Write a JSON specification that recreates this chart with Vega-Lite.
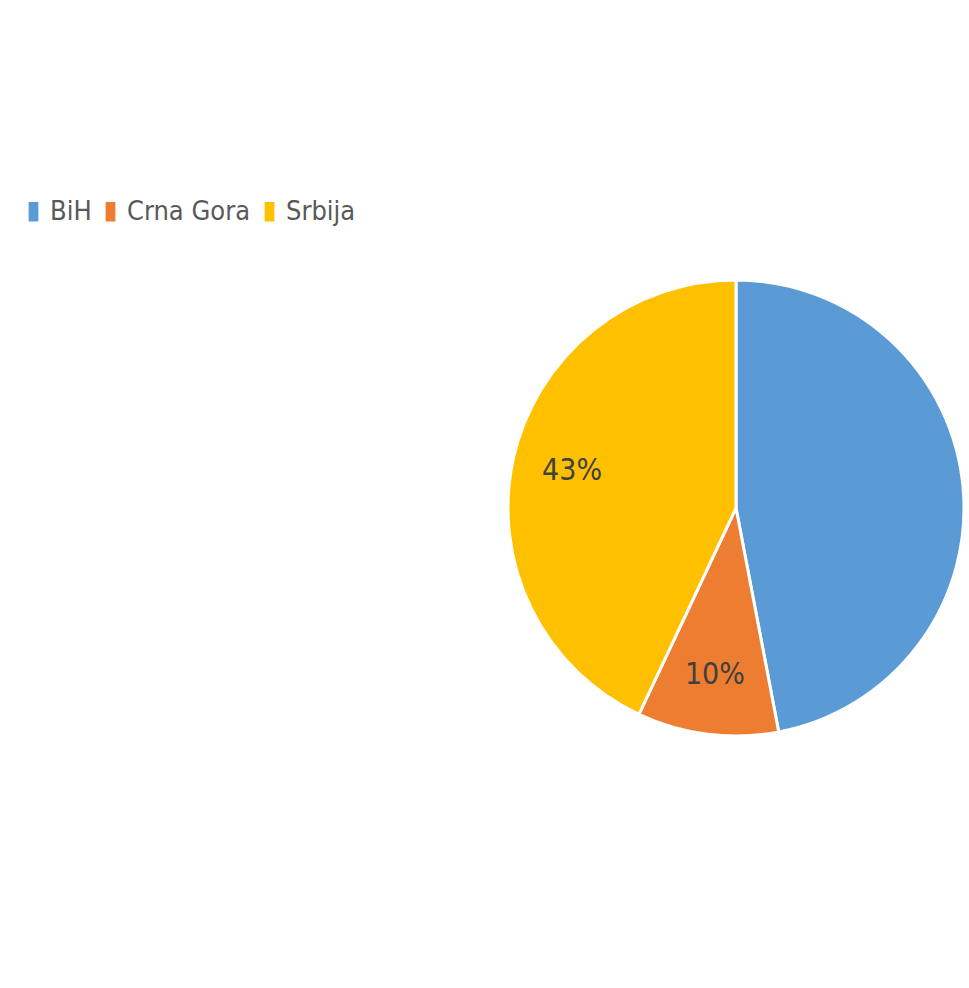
{
  "$schema": "https://vega.github.io/schema/vega-lite/v6.json",
  "width": 456,
  "height": 500,
  "padding": {"left": 508, "top": 258, "right": 0, "bottom": 0},
  "autosize": {"type": "none"},
  "background": "white",
  "config": {"view": {"stroke": null}},
  "data": {
    "values": [
      {"country": "BiH", "share": 47, "label": "47%"},
      {"country": "Crna Gora", "share": 10, "label": "10%"},
      {"country": "Srbija", "share": 43, "label": "43%"}
    ]
  },
  "encoding": {
    "theta": {"field": "share", "type": "quantitative", "stack": true},
    "order": {"field": "country", "sort": "ascending"},
    "color": {
      "field": "country",
      "type": "nominal",
      "scale": {"domain": ["BiH", "Crna Gora", "Srbija"], "range": ["#5B9BD5", "#ED7D31", "#FFC000"]},
      "legend": {
        "title": null,
        "orient": "none",
        "direction": "horizontal",
        "legendX": -488,
        "legendY": -60,
        "symbolType": "M-0.5,-1H0.5V1H-0.5Z",
        "symbolSize": 380,
        "symbolStrokeWidth": 0,
        "labelFont": "DejaVu Sans Condensed",
        "labelFontSize": 27,
        "labelColor": "#595959",
        "labelOffset": 3,
        "columnPadding": 5,
        "symbolOpacity": 1
      }
    }
  },
  "layer": [
    {"mark": {"type": "arc", "stroke": "white", "strokeWidth": 3}},
    {
      "mark": {"type": "text", "radius": 168, "font": "DejaVu Sans Condensed", "fontSize": 30},
      "encoding": {
        "text": {"condition": {"test": "datum.country === 'BiH'", "value": ""}, "field": "label"},
        "color": {"value": "#404040"}
      }
    }
  ]
}
